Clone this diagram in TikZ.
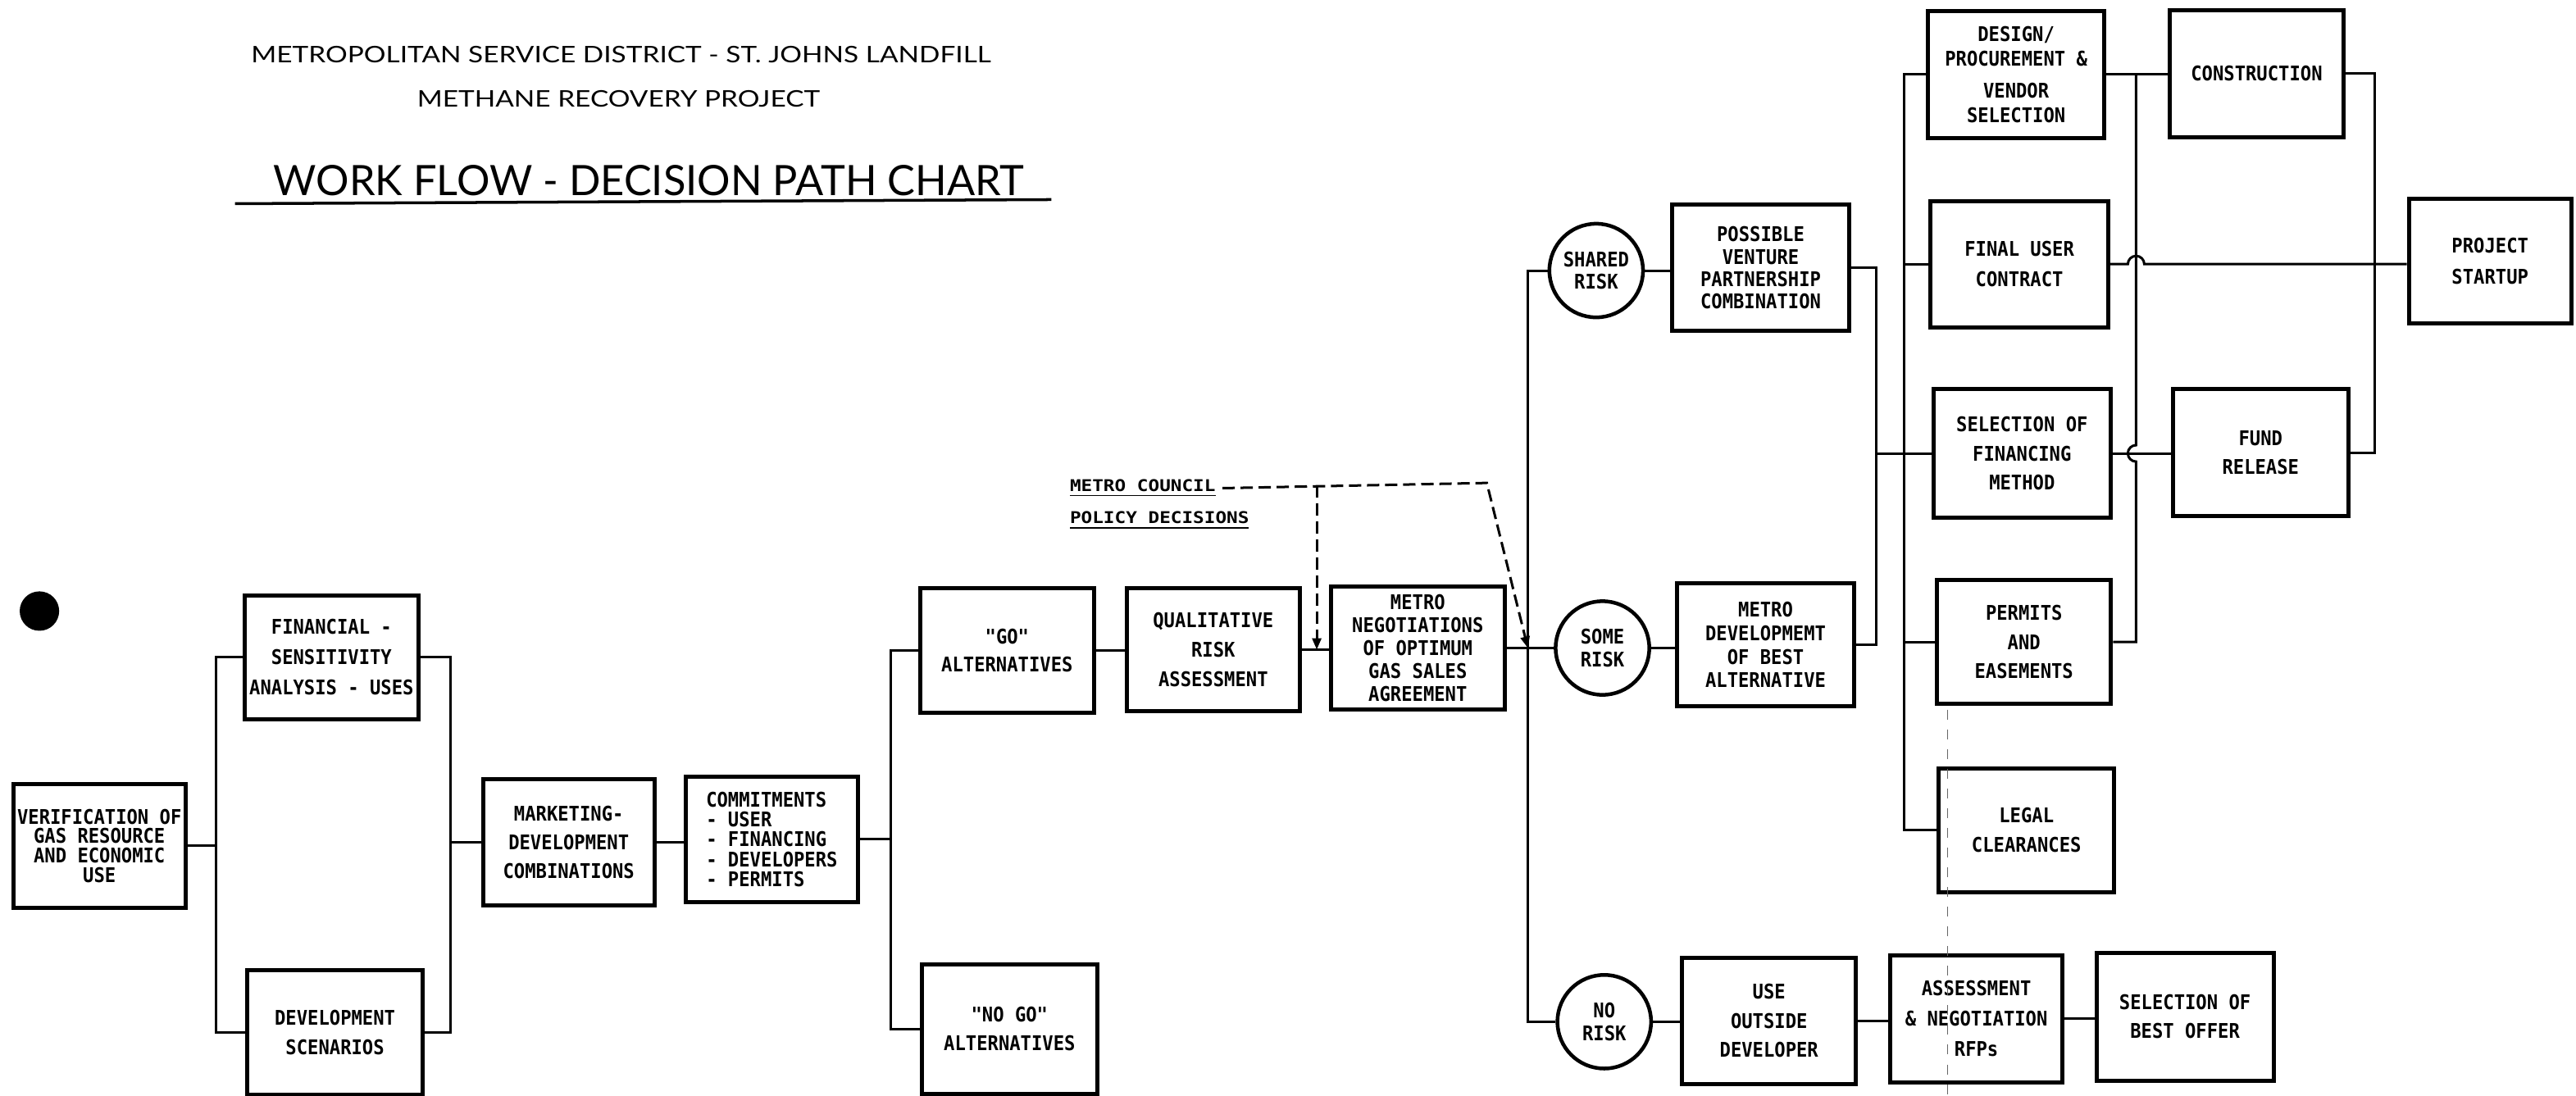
\documentclass[tikz,border=0pt]{standalone}
\usepackage{fontspec}
\usetikzlibrary{arrows.meta}
\newfontfamily\chartfont{DejaVu Sans Mono Bold}[FakeStretch=0.9]
\newfontfamily\notefont{DejaVu Sans Mono Bold}[FakeStretch=1.15]
\newfontfamily\headfont{Lato}[FakeStretch=1.2]
\newfontfamily\titlefont{Lato}[FakeStretch=0.99]
\tikzset{
	box/.style={draw, line width=0.5mm, inner sep=0pt, align=center, font=\chartfont\fontsize{7pt}{10pt}\selectfont},
	dims/.style 2 args={minimum width=#1*0.2mm, minimum height=#2*0.2mm},
	lead/.style={font=\chartfont\fontsize{7pt}{#1}\selectfont},
	hub/.style={draw, circle, line width=0.45mm, minimum size=11.4mm, inner sep=0pt, align=center, font=\chartfont\fontsize{7pt}{7.8pt}\selectfont},
	note/.style={inner xsep=2pt, inner ysep=1pt, anchor=base west, font=\notefont\fontsize{5.6pt}{7pt}\selectfont},
	heading/.style={inner sep=0pt, font=\headfont\fontsize{7.9pt}{8pt}\selectfont},
	policy/.style={dash pattern=on 1.5mm off 0.7mm, -{Triangle[length=1.4mm, width=1.1mm]}},
	fold/.style={line width=0.12mm, black!60, dash pattern=on 1.2mm off 1.2mm}
}

\begin{document}
\begin{tikzpicture}[x=0.2mm, y=-0.2mm, line width=0.3mm]
	\useasboundingbox (0,0) rectangle (1568,667.2);
	\node[heading] (t1) at (378,33.4) {METROPOLITAN SERVICE DISTRICT - ST. JOHNS LANDFILL};
	\node[heading] (t2) at (376.5,60) {METHANE RECOVERY PROJECT};
	\node[inner sep=0pt, font=\titlefont\fontsize{14.5pt}{15pt}\selectfont] (t3) at (395,110) {WORK FLOW - DECISION PATH CHART};
	\draw[line width=0.35mm] (143,124) -- (640,121.5);
	\fill (24,372) circle (12);
	\node[box, dims={105}{75}, lead=6.8pt] (ver) at (60.5,515) {VERIFICATION OF\\GAS RESOURCE\\AND ECONOMIC\\USE};
	\node[box, dims={106}{75.5}, lead=10.5pt] (fsa) at (201.8,400.1) {FINANCIAL -\\SENSITIVITY\\ANALYSIS - USES};
	\node[box, dims={107}{76}, lead=10.4pt] (ds) at (203.9,628.5) {DEVELOPMENT\\SCENARIOS};
	\node[box, dims={104.4}{76.6}, lead=10pt] (mdc) at (346.2,512.7) {MARKETING-\\DEVELOPMENT\\COMBINATIONS};
	\node[box, dims={105}{76}, lead=6.9pt, align=left] (com) at (469.8,511) {COMMITMENTS\\- USER\\- FINANCING\\- DEVELOPERS\\- PERMITS};
	\node[box, dims={106}{76}, lead=9.6pt] (go) at (613,396) {"GO"\\ALTERNATIVES};
	\node[box, dims={107}{79}, lead=10pt] (nogo) at (614.5,626.5) {"NO GO"\\ALTERNATIVES};
	\node[box, dims={105}{75}, lead=10.1pt] (qra) at (738.5,395.5) {QUALITATIVE\\RISK\\ASSESSMENT};
	\node[box, dims={106}{75}, lead=7.9pt] (mno) at (863,394.5) {METRO\\NEGOTIATIONS\\OF OPTIMUM\\GAS SALES\\AGREEMENT};
	\node[hub] (sr) at (971.6,164.7) {SHARED\\RISK};
	\node[hub] (smr) at (975.4,394.5) {SOME\\RISK};
	\node[hub] (nr) at (976.5,622) {NO\\RISK};
	\node[box, dims={107.6}{76.8}, lead=7.7pt] (pvp) at (1071.7,163) {POSSIBLE\\VENTURE\\PARTNERSHIP\\COMBINATION};
	\node[box, dims={108}{75}, lead=8.2pt] (mdb) at (1074.7,392.5) {METRO\\DEVELOPMEMT\\OF BEST\\ALTERNATIVE};
	\node[box, dims={105.6}{76.8}, lead=10.1pt] (uod) at (1076.8,621.4) {USE\\OUTSIDE\\DEVELOPER};
	\node[box, dims={104.8}{77.2}, lead=10.5pt] (anr) at (1203,620.2) {ASSESSMENT\\\& NEGOTIATION\\RFPs};
	\node[box, dims={107.8}{77.7}, lead=10pt] (sbo) at (1330,618.9) {SELECTION OF\\BEST OFFER};
	\node[box, dims={107}{77.4}, lead=8.3pt] (dpv) at (1227.2,45.4) {DESIGN/\\PROCUREMENT \&\\[3pt]VENDOR\\SELECTION};
	\node[box, dims={108}{76.8}, lead=10.5pt] (fuc) at (1229.2,160.8) {FINAL USER\\CONTRACT};
	\node[box, dims={107.6}{78}, lead=10.1pt] (sfm) at (1230.8,276) {SELECTION OF\\FINANCING\\METHOD};
	\node[box, dims={106}{75}, lead=10.1pt] (pe) at (1232,390.8) {PERMITS\\AND\\EASEMENTS};
	\node[box, dims={107}{75}, lead=10.2pt] (lc) at (1233.5,505.5) {LEGAL\\CLEARANCES};
	\node[box, dims={105.8}{77.3}] (con) at (1373.6,44.9) {CONSTRUCTION};
	\node[box, dims={106.5}{77}, lead=9.9pt] (fr) at (1376,275.5) {FUND\\RELEASE};
	\node[box, dims={98.8}{76.2}, lead=10.8pt] (pst) at (1515.7,158.9) {PROJECT\\STARTUP};
	\node[note] (mc) at (647,299) {\underline{METRO COUNCIL}};
	\node[note] (pd) at (647,318.7) {\underline{POLICY DECISIONS}};
	\coordinate (busA) at (131.3,0);
	\coordinate (busB) at (274,0);
	\coordinate (busC) at (542,0);
	\coordinate (busD) at (930,0);
	\coordinate (busE) at (1142,0);
	\coordinate (busF) at (1159,0);
	\coordinate (busG) at (1300.2,0);
	\coordinate (busH) at (1445.6,0);
	\coordinate (bend) at (905,294);
	\coordinate (drop) at (801.5,295.5);
	\draw (ver.east) -- (ver.east -| busA);
	\draw (fsa.west) -| (busA |- ds.west) -- (ds.west);
	\draw (fsa.east) -| (busB |- ds.east) -- (ds.east);
	\draw (busB |- mdc.west) -- (mdc.west);
	\draw (mdc.east) -- (mdc.east -| com.west);
	\draw (com.east) -- (com.east -| busC);
	\draw (go.west) -| (busC |- nogo.west) -- (nogo.west);
	\draw (go.east) -- (go.east -| qra.west);
	\draw (qra.east) -- (qra.east -| mno.west);
	\draw (mno.east) -- (mno.east -| smr.west);
	\draw (sr.west) -| (busD |- nr.west) -- (nr.west);
	\draw (sr.east) -- (sr.east -| pvp.west);
	\draw (smr.east) -- (smr.east -| mdb.west);
	\draw (nr.east) -- (nr.east -| uod.west);
	\draw (uod.east) -- (uod.east -| anr.west);
	\draw (anr.east) -- (anr.east -| sbo.west);
	\draw (pvp.east) -| (busE |- mdb.east) -- (mdb.east);
	\draw (busE |- sfm.west) -- (sfm.west);
	\draw (dpv.west) -| (busF |- lc.west) -- (lc.west);
	\foreach \n in {fuc, pe}
		\draw (\n.west) -- (\n.west -| busF);
	\draw (dpv.east) -- (dpv.east -| con.west);
	\draw (pe.east) -| ([yshift=-1mm]busG |- sfm.east) arc[start angle=270, end angle=90, radius=1mm] -- (busG |- dpv.east);
	\draw (fuc.east) -- ([xshift=-1mm]busG |- fuc.east) arc[start angle=180, end angle=0, radius=1mm] -- (fuc.east -| pst.west);
	\draw (sfm.east) -- (sfm.east -| fr.west);
	\draw (con.east) -| (busH |- fr.east) -- (fr.east);
	\draw[policy] (mc.east) -- (bend) -- (busD |- mno.east);
	\draw[policy] (drop) -- (drop |- qra.east);
	\draw[fold] (1185.5,432) -- (1185.5,667.2);
\end{tikzpicture}
\end{document}
